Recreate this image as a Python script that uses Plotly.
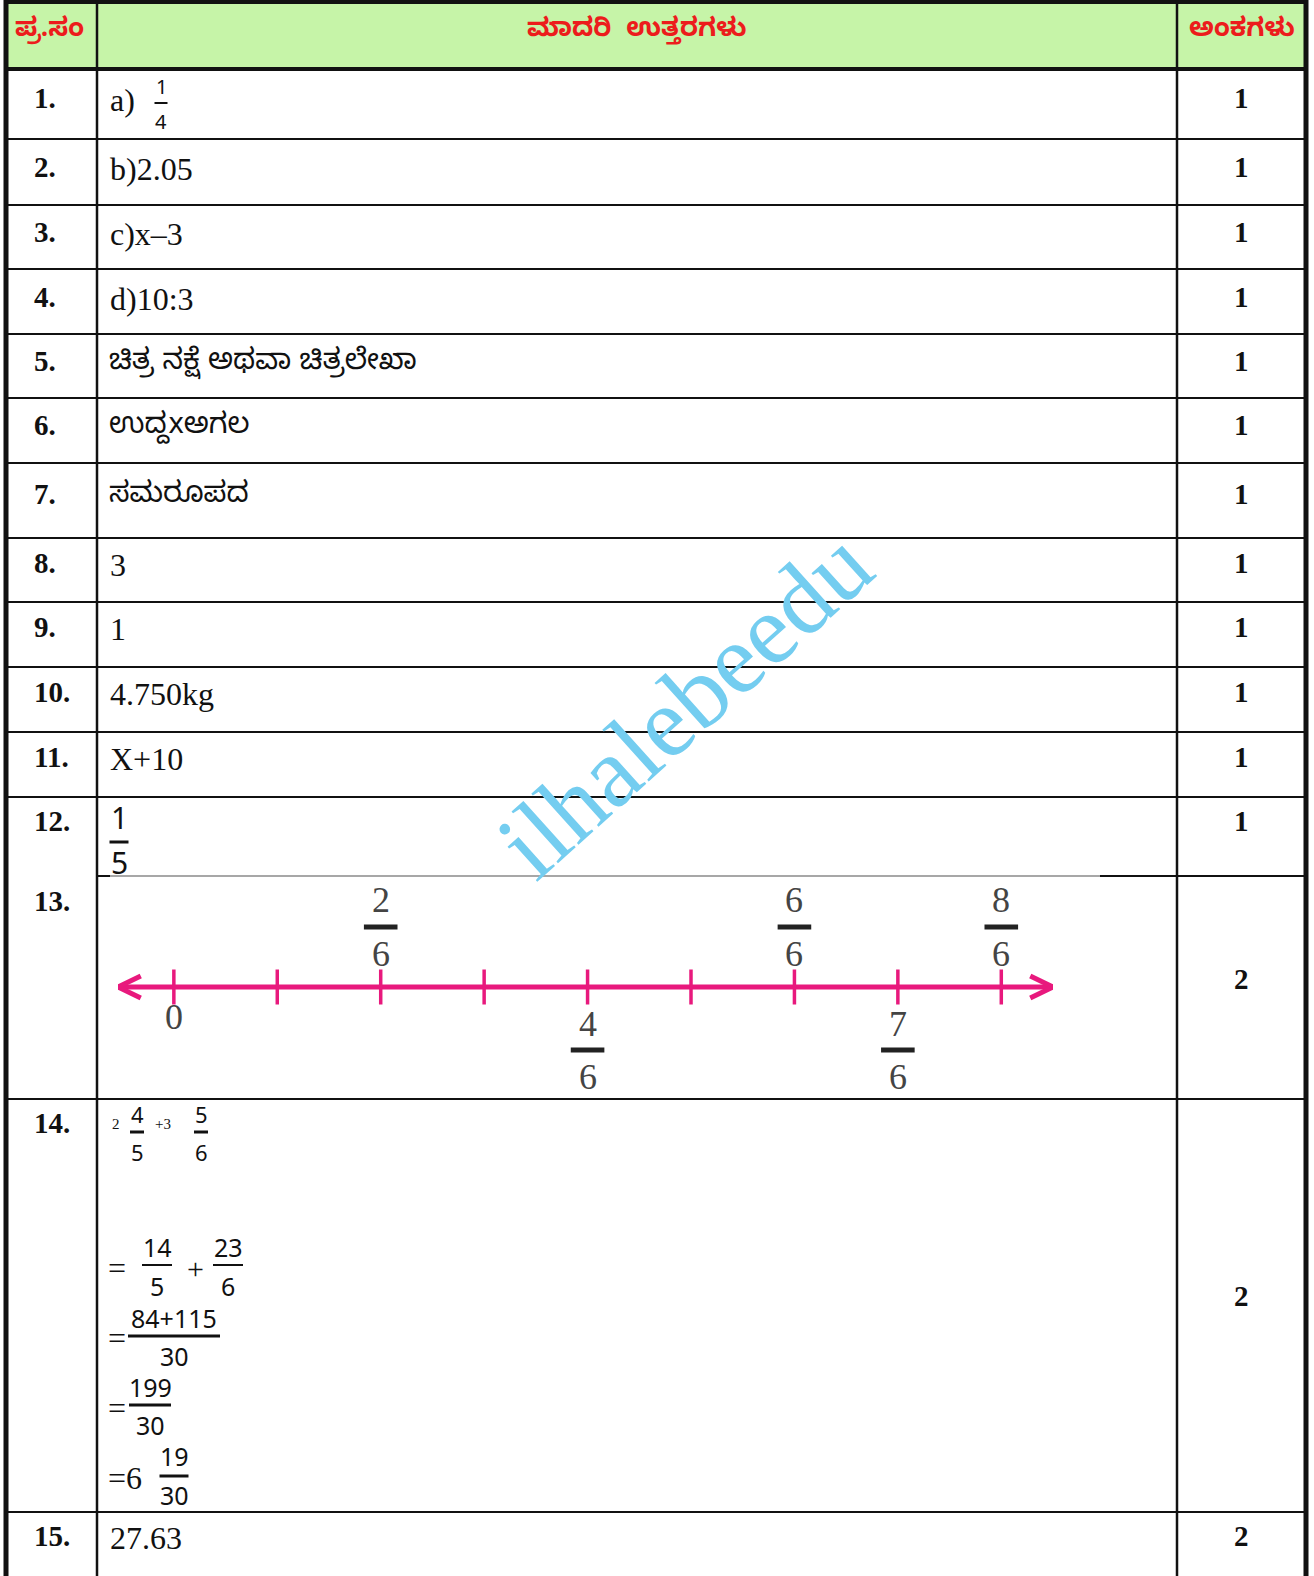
import plotly.graph_objects as go

W, H = 1314, 1576

# ---- table content ----
header_labels = ["ಪ್ರ.ಸಂ", "ಮಾದರಿ  ಉತ್ತರಗಳು", "ಅಂಕಗಳು"]
question_numbers = ["1.", "2.", "3.", "4.", "5.", "6.", "7.", "8.", "9.", "10.",
                    "11.", "12.", "13.", "14.", "15."]
answers = ["a)", "b)2.05", "c)x–3", "d)10:3", "ಚಿತ್ರ ನಕ್ಷೆ ಅಥವಾ ಚಿತ್ರಲೇಖಾ",
           "ಉದ್ದxಅಗಲ", "ಸಮರೂಪದ", "3", "1", "4.750kg", "X+10", "", "", "", "27.63"]
marks = [1, 1, 1, 1, 1, 1, 1, 1, 1, 1, 1, 1, 2, 2, 2]
frac_q1 = ("1", "4")
frac_q12 = ("1", "5")

# number line for Q13 (values in sixths)
nl_ticks = [0, 1, 2, 3, 4, 5, 6, 7, 8]
nl_label_at = [0, 2, 4, 6, 7, 8]
nl_label_num = ["0", "2", "4", "6", "7", "8"]
nl_label_den = [None, "6", "6", "6", "6", "6"]
nl_label_side = ["below", "above", "below", "above", "below", "above"]

# Q14 working
q14_mixed = [("2", "4", "5"), ("+3", "5", "6")]
q14_step1 = [("14", "5"), ("23", "6")]
q14_step2 = ("84+115", "30")
q14_step3 = ("199", "30")
q14_step4 = ("6", "19", "30")

watermark = "ilhalebeedu"

# ---- layout constants (pixels) ----
row_edges = [69, 139, 205, 269, 334, 398, 463, 538, 602, 667, 732, 797, 876, 1099, 1512, 1576]
col_edges = [6, 97, 1177, 1306]
text_y = [98, 167, 232, 297, 361, 425, 494, 563, 627, 692, 757, 821, 901, 1123, 1536]

SERIF = "Liberation Serif, Times New Roman, serif"
SANS = "Noto Sans, Lato, sans-serif"
KAN = "Noto Sans Kannada, Noto Sans, sans-serif"
PINK = "#e8197d"
GREEN = "#c6f4a8"
RED = "#ec1c1c"

fig = go.Figure()
shapes = []
ann = []


def txt(x, y, s, size, font=SERIF, color="#111", xanchor="left", bold=False, **kw):
    if bold:
        s = "<b>" + s + "</b>"
    ann.append(dict(x=x, y=y, xref="x", yref="y", text=s, showarrow=False,
                    xanchor=xanchor, yanchor="middle",
                    font=dict(family=font, size=size, color=color), **kw))


def hline(x0, x1, y, w=2, color="#111"):
    shapes.append(dict(type="line", xref="x", yref="y", x0=x0, x1=x1, y0=y, y1=y,
                       line=dict(color=color, width=w)))


def vline(x, y0, y1, w=2, color="#111"):
    shapes.append(dict(type="line", xref="x", yref="y", x0=x, x1=x, y0=y0, y1=y1,
                       line=dict(color=color, width=w)))


def frac(xc, y_num, y_bar, y_den, num, den, size, bar_w, bar_t=2, font=SANS):
    txt(xc, y_num, num, size, font=font, xanchor="center")
    txt(xc, y_den, den, size, font=font, xanchor="center")
    hline(xc - bar_w / 2, xc + bar_w / 2, y_bar, w=bar_t)


# header band
shapes.append(dict(type="rect", xref="x", yref="y", x0=col_edges[0], x1=col_edges[-1],
                   y0=2, y1=row_edges[0], fillcolor=GREEN, line=dict(width=0)))

# grid
hline(col_edges[0], col_edges[-1], 2, w=4)
hline(col_edges[0], col_edges[-1], row_edges[0], w=4)
for y in row_edges[1:-1]:
    if y == 876:
        # top edge of the pasted number-line picture
        hline(col_edges[1], 110, y)
        hline(110, 1100, y, w=1.5, color="#8a8a8a")
        hline(1100, col_edges[-1], y)
    else:
        hline(col_edges[0], col_edges[-1], y)
vline(col_edges[0], 0, H, w=5)
vline(col_edges[1], 0, H, w=2.5)
vline(col_edges[2], 0, H, w=2.5)
vline(col_edges[3], 0, H, w=5)

# header text
header_x = [49, (col_edges[1] + col_edges[2]) / 2, (col_edges[2] + col_edges[3]) / 2]
for hx, lab in zip(header_x, header_labels):
    txt(hx, 32, lab, 26, font=KAN, color=RED, xanchor="center", bold=True)

# rows
for i in range(len(question_numbers)):
    y = text_y[i]
    txt(32, y, question_numbers[i], 29, bold=True)
    if answers[i]:
        kannada = any(0x0C80 < ord(c) < 0x0D00 for c in answers[i])
        if kannada:
            txt(107, y + 4, answers[i], 29, font=KAN)
        else:
            txt(108, y + 2, answers[i], 32, font=SERIF)
    my = y if i < 12 else [979, 1296, 1536][i - 12]
    txt((col_edges[2] + col_edges[3]) / 2, my, str(marks[i]), 29,
        xanchor="center", bold=True)

# fractions in Q1 and Q12
frac(161, 86, 103, 121, frac_q1[0], frac_q1[1], 20, 13)
frac(119, 817, 842, 862, frac_q12[0], frac_q12[1], 30, 19, bar_t=3)

# Q14 working
txt(110, 1124, q14_mixed[0][0], 15, font=SERIF)
frac(137, 1114, 1132, 1152, q14_mixed[0][1], q14_mixed[0][2], 22, 14, bar_t=3)
txt(153, 1124, q14_mixed[1][0], 15, font=SERIF)
frac(201, 1114, 1132, 1152, q14_mixed[1][1], q14_mixed[1][2], 22, 14, bar_t=3)

txt(106, 1268, "=", 32, font=SERIF)
frac(157, 1247, 1265, 1286, q14_step1[0][0], q14_step1[0][1], 25, 30)
txt(195, 1268, "+", 30, font=SERIF, xanchor="center")
frac(228, 1247, 1265, 1286, q14_step1[1][0], q14_step1[1][1], 25, 30)

txt(106, 1338, "=", 32, font=SERIF)
frac(174, 1318, 1336, 1356, q14_step2[0], q14_step2[1], 25, 92, bar_t=3)

txt(106, 1408, "=", 32, font=SERIF)
frac(150, 1387, 1405, 1425, q14_step3[0], q14_step3[1], 25, 42, bar_t=3)

txt(106, 1478, "=" + q14_step4[0], 32, font=SERIF)
frac(174, 1456, 1476, 1495, q14_step4[1], q14_step4[2], 25, 29, bar_t=3)

# number line (Q13) on its own x axis
LINE_Y = 987
lo, hi = -0.54, 8.5
ah = 0.22
fig.add_trace(go.Scatter(
    x=[lo, hi, None, lo + ah, lo, lo + ah, None, hi - ah, hi, hi - ah],
    y=[LINE_Y, LINE_Y, None, LINE_Y - 11, LINE_Y, LINE_Y + 11, None,
       LINE_Y - 11, LINE_Y, LINE_Y + 11],
    xaxis="x2", yaxis="y", mode="lines",
    line=dict(color=PINK, width=5), hoverinfo="skip", showlegend=False))
fig.add_trace(go.Scatter(
    x=nl_ticks, y=[LINE_Y] * len(nl_ticks), xaxis="x2", yaxis="y", mode="markers",
    marker=dict(symbol="line-ns", size=25, line=dict(color=PINK, width=3.5)),
    hoverinfo="skip", showlegend=False))

bar_x, bar_y = [], []
for v, num, den, side in zip(nl_label_at, nl_label_num, nl_label_den, nl_label_side):
    ys = (900, 927, 954) if side == "above" else (1024, 1050, 1077)
    if den is None:
        ys = (1017, None, None)
    ann.append(dict(x=v, y=ys[0], xref="x2", yref="y", text=num, showarrow=False,
                    xanchor="center", yanchor="middle",
                    font=dict(family=SERIF, size=36, color="#444")))
    if den is not None:
        ann.append(dict(x=v, y=ys[2], xref="x2", yref="y", text=den, showarrow=False,
                        xanchor="center", yanchor="middle",
                        font=dict(family=SERIF, size=36, color="#444")))
        bar_x.append(v)
        bar_y.append(ys[1])
fig.add_trace(go.Scatter(
    x=bar_x, y=bar_y, xaxis="x2", yaxis="y", mode="markers",
    marker=dict(symbol="line-ew", size=24, line=dict(color="#222", width=5)),
    hoverinfo="skip", showlegend=False))

# watermark
ann.append(dict(x=684, y=704, xref="x", yref="y", text=watermark, showarrow=False,
                textangle=-42, xanchor="center", yanchor="middle",
                font=dict(family=SERIF, size=100, color="#74cdf0")))

fig.update_layout(
    width=W, height=H, margin=dict(l=0, r=0, t=0, b=0),
    paper_bgcolor="white", plot_bgcolor="rgba(0,0,0,0)",
    xaxis=dict(range=[0, W], visible=False, fixedrange=True),
    yaxis=dict(range=[H, 0], visible=False, fixedrange=True),
    xaxis2=dict(range=[lo, hi], domain=[118 / W, 1053 / W], anchor="y",
                visible=False, fixedrange=True),
    shapes=shapes, annotations=ann, showlegend=False,
)

fig.write_html("out.html", config={"displayModeBar": False},
               post_script="document.body.style.margin='0';")
